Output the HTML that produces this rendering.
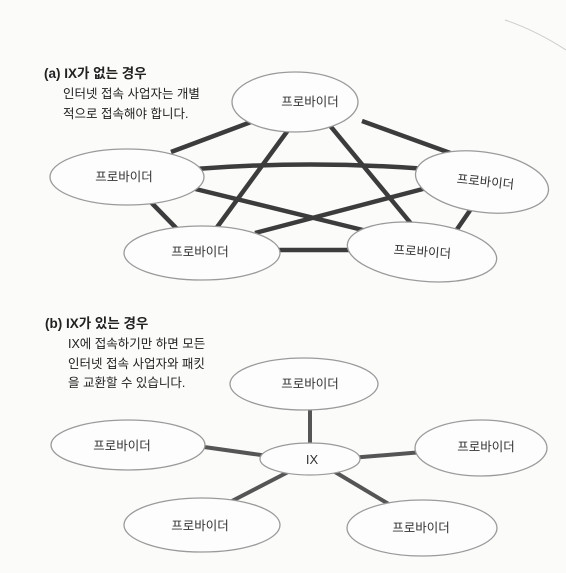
<!DOCTYPE html>
<html><head><meta charset="utf-8"><style>
html,body{margin:0;padding:0;background:#fbfbfa;}
body{width:566px;height:573px;overflow:hidden;position:relative;font-family:"Liberation Sans","Noto Sans CJK KR",sans-serif;}
</style></head><body>
<svg width="566" height="573" xmlns="http://www.w3.org/2000/svg" style="position:absolute;left:0;top:0">
<path d="M505 20 Q535 30 566 50" stroke="#ccc" fill="none" stroke-width="1"/>
<g stroke="#3c3c3c" stroke-width="4.5" stroke-linecap="butt" fill="none">
<line x1="259" y1="119" x2="171" y2="152"/>
<line x1="362" y1="121" x2="453" y2="154"/>
<path d="M195 169 Q310 160 427 169"/>
<line x1="294" y1="122" x2="215" y2="230"/>
<line x1="327" y1="122" x2="418" y2="232"/>
<line x1="175" y1="184" x2="375" y2="233"/>
<line x1="442" y1="184" x2="255" y2="233"/>
<line x1="139" y1="190" x2="181" y2="233"/>
<line x1="482" y1="193" x2="451" y2="238"/>
<line x1="270" y1="250" x2="360" y2="250"/>
</g>
<g stroke="#555" stroke-width="4" fill="none">
<line x1="310" y1="400" x2="310" y2="450"/>
<line x1="190" y1="445" x2="275" y2="457"/>
<line x1="350" y1="458" x2="435" y2="451"/>
<line x1="230" y1="502" x2="292" y2="470"/>
<line x1="330" y1="469" x2="392" y2="506"/>
</g>
<g fill="#fdfdfd" stroke="#9a9a9a" stroke-width="1.3">
<ellipse cx="295" cy="102" rx="63" ry="30"/>
<ellipse cx="127" cy="177" rx="77" ry="28"/>
<ellipse cx="482" cy="182" rx="67" ry="30" transform="rotate(8 482 182)"/>
<ellipse cx="202" cy="253" rx="78" ry="27"/>
<ellipse cx="422" cy="252" rx="75" ry="29" transform="rotate(6 422 252)"/>
<ellipse cx="304" cy="384" rx="74" ry="26"/>
<ellipse cx="128" cy="445" rx="77" ry="25"/>
<ellipse cx="310" cy="459" rx="50" ry="16"/>
<ellipse cx="481" cy="448" rx="66" ry="28"/>
<ellipse cx="202" cy="525" rx="78" ry="27"/>
<ellipse cx="422" cy="528" rx="75" ry="28"/>
</g>
<g font-family="Liberation Sans, Noto Sans CJK KR, sans-serif" font-size="12.5" fill="#333" text-anchor="middle">
<text x="310" y="106">프로바이더</text>
<text x="124" y="181">프로바이더</text>
<text x="485" y="186" transform="rotate(6 485 186)">프로바이더</text>
<text x="200" y="256">프로바이더</text>
<text x="422" y="256" transform="rotate(4 422 256)">프로바이더</text>
<text x="310" y="388">프로바이더</text>
<text x="122" y="450">프로바이더</text>
<text x="312" y="464" font-size="13">IX</text>
<text x="486" y="451">프로바이더</text>
<text x="200" y="530">프로바이더</text>
<text x="421" y="532">프로바이더</text>
</g>
<g font-family="Liberation Sans, Noto Sans CJK KR, sans-serif" fill="#222">
<text x="44" y="78" font-size="13.5" font-weight="bold">(a) IX가 없는 경우</text>
<text x="63" y="98" font-size="12.5">인터넷 접속 사업자는 개별</text>
<text x="63" y="118" font-size="12.5">적으로 접속해야 합니다.</text>
<text x="45" y="328" font-size="13.5" font-weight="bold">(b) IX가 있는 경우</text>
<text x="68" y="348" font-size="12.5">IX에 접속하기만 하면 모든</text>
<text x="68" y="368" font-size="12.5">인터넷 접속 사업자와 패킷</text>
<text x="68" y="387" font-size="12.5">을 교환할 수 있습니다.</text>
</g>
</svg>
</body></html>
